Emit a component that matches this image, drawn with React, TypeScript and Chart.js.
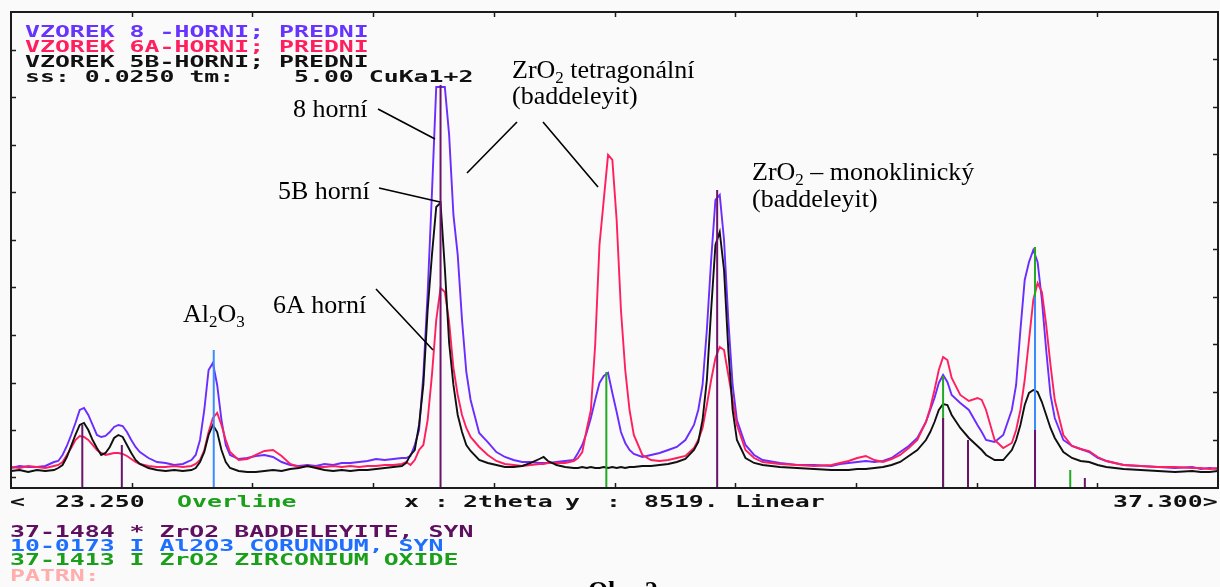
import React, { useEffect, useRef } from 'react';
import { Chart, registerables } from 'chart.js';

Chart.register(...registerables);

// ---- axis ranges (from the status line of the instrument) ----
const X_MIN = 23.25;
const X_MAX = 37.3;
const Y_MAX = 8519;

// ---- 2theta sampling positions (degrees) ----
const TWO_THETA = [
  23.25, 23.35, 23.45, 23.55, 23.65, 23.75, 23.8, 23.85, 23.9, 23.95,
  24.0, 24.05, 24.1, 24.15, 24.2, 24.25, 24.3, 24.35, 24.4, 24.45,
  24.5, 24.55, 24.6, 24.65, 24.7, 24.75, 24.85, 24.95, 25.05, 25.15,
  25.25, 25.35, 25.4, 25.45, 25.5, 25.55, 25.6, 25.65, 25.7, 25.75,
  25.8, 25.9, 26.0, 26.1, 26.2, 26.3, 26.4, 26.5, 26.6, 26.7,
  26.8, 26.9, 27.0, 27.1, 27.2, 27.3, 27.4, 27.5, 27.6, 27.7,
  27.8, 27.85, 27.9, 27.95, 28.0, 28.05, 28.1, 28.15, 28.2, 28.25,
  28.3, 28.35, 28.4, 28.45, 28.5, 28.55, 28.6, 28.7, 28.8, 28.9,
  29.0, 29.1, 29.2, 29.3, 29.4, 29.45, 29.5, 29.6, 29.7, 29.8,
  29.85, 29.9, 29.95, 30.0, 30.05, 30.1, 30.15, 30.2, 30.25, 30.3,
  30.35, 30.4, 30.45, 30.5, 30.6, 30.7, 30.8, 30.9, 31.0, 31.1,
  31.2, 31.25, 31.3, 31.35, 31.4, 31.45, 31.5, 31.55, 31.6, 31.65,
  31.7, 31.8, 31.9, 32.0, 32.2, 32.4, 32.6, 32.8, 32.9, 33.0,
  33.1, 33.2, 33.3, 33.4, 33.5, 33.6, 33.7, 33.8, 33.9, 33.95,
  34.0, 34.05, 34.1, 34.15, 34.2, 34.3, 34.4, 34.5, 34.55, 34.6,
  34.7, 34.8, 34.9, 34.95, 35.0, 35.05, 35.1, 35.15, 35.2, 35.25,
  35.3, 35.35, 35.4, 35.5, 35.6, 35.7, 35.8, 35.9, 36.0, 36.2,
  36.4, 36.6, 36.8, 37.0, 37.1, 37.2, 37.3,
];

// ---- measured intensities (counts) ----
const SAMPLE_8 = [
  358, 394, 376, 376, 394, 465, 483, 591, 752, 949,
  1164, 1396, 1432, 1307, 1128, 949, 913, 931, 1002, 1092,
  1128, 1110, 1002, 859, 734, 644, 537, 465, 448, 412,
  430, 501, 591, 859, 1396, 2112, 2238, 1844, 1217, 770,
  591, 519, 537, 573, 591, 555, 465, 412, 394, 412,
  394, 430, 412, 448, 448, 465, 483, 519, 501, 519,
  537, 537, 573, 770, 1038, 2023, 3490, 5280, 7178, 7178,
  7178, 6319, 4887, 4171, 3007, 2076, 1575, 985, 823, 644,
  555, 501, 465, 465, 448, 448, 448, 465, 483, 501,
  627, 770, 985, 1253, 1575, 1880, 2005, 2059, 1701, 1360,
  1002, 806, 680, 609, 555, 591, 627, 680, 734, 859,
  1128, 1396, 1844, 2828, 4081, 5155, 5245, 4439, 3007, 1844,
  1217, 770, 591, 501, 448, 412, 412, 394, 430, 448,
  465, 483, 465, 483, 537, 644, 752, 895, 1181, 1396,
  1611, 1880, 2023, 1897, 1665, 1522, 1396, 1128, 1002, 859,
  823, 949, 1396, 1844, 2828, 3723, 4045, 4260, 4045, 3365,
  2470, 1665, 1253, 859, 752, 698, 644, 537, 483, 412,
  394, 376, 358, 376, 340, 358, 340,
];

const SAMPLE_6A = [
  376, 358, 394, 376, 358, 394, 412, 465, 591, 716,
  859, 931, 913, 859, 770, 680, 627, 591, 609, 627,
  627, 609, 573, 519, 465, 430, 394, 376, 376, 394,
  376, 394, 430, 501, 680, 1002, 1253, 1343, 1128, 859,
  644, 501, 519, 591, 662, 680, 573, 430, 376, 394,
  376, 376, 394, 376, 394, 376, 394, 394, 412, 412,
  430, 465, 412, 501, 680, 770, 1217, 2023, 3007, 3580,
  3508, 2971, 2148, 1665, 1307, 1074, 913, 734, 591, 483,
  430, 412, 394, 412, 430, 430, 448, 448, 448, 483,
  537, 644, 1038, 1396, 2560, 4350, 5155, 5961, 5871, 4797,
  3186, 2112, 1396, 949, 591, 501, 483, 501, 537, 573,
  716, 859, 1074, 1486, 1933, 2327, 2524, 2470, 2023, 1575,
  1128, 680, 537, 465, 430, 412, 394, 412, 448, 483,
  537, 573, 501, 465, 519, 591, 716, 859, 1181, 1432,
  1754, 2112, 2345, 2291, 1969, 1665, 1557, 1611, 1575, 1396,
  859, 716, 806, 1038, 1396, 1933, 2649, 3365, 3670, 3508,
  2918, 2202, 1575, 949, 752, 698, 662, 555, 483, 412,
  394, 376, 376, 358, 358, 340, 358,
];

const SAMPLE_5B = [
  304, 322, 286, 322, 304, 322, 358, 412, 555, 752,
  949, 1128, 1164, 1038, 859, 716, 591, 627, 734, 895,
  949, 913, 770, 627, 501, 430, 358, 322, 304, 322,
  304, 322, 358, 465, 644, 949, 1128, 1002, 680, 465,
  358, 304, 286, 286, 304, 322, 304, 340, 358, 394,
  358, 322, 304, 322, 304, 322, 322, 340, 358, 376,
  394, 448, 591, 680, 1128, 1844, 3186, 4171, 5030, 5102,
  3938, 2596, 1844, 1307, 1002, 770, 662, 501, 448, 412,
  376, 376, 394, 448, 519, 555, 483, 412, 376, 358,
  358, 376, 358, 376, 358, 358, 376, 358, 376, 358,
  376, 358, 376, 376, 394, 394, 412, 430, 465, 519,
  680, 823, 1217, 1933, 3186, 4350, 4582, 3902, 2470, 1396,
  859, 537, 448, 412, 376, 358, 340, 322, 322, 322,
  340, 340, 358, 376, 412, 465, 573, 680, 859, 1002,
  1181, 1396, 1504, 1486, 1307, 1074, 895, 752, 680, 591,
  501, 501, 680, 859, 1128, 1486, 1701, 1754, 1718, 1539,
  1307, 1074, 895, 644, 537, 483, 465, 412, 376, 340,
  322, 304, 286, 304, 286, 286, 304,
];

// ---- reference patterns (stick positions, degrees, and intensities) ----
const BADDELEYITE_POS = [24.08, 24.54, 28.25, 31.47, 34.1, 34.39, 35.17, 35.75];
const BADDELEYITE_INT = [1128, 770, 7214, 5334, 1253, 859, 1038, 179];
const CORUNDUM_POS = [25.61, 35.17];
const CORUNDUM_INT = [2470, 3419];
const ZIRCONIUM_POS = [30.18, 34.1, 35.17, 35.58];
const ZIRCONIUM_INT = [2076, 2005, 4314, 322];

// ---- frame tick marks ----
const X_TICKS = [24.655, 26.06, 27.465, 28.87, 30.275, 31.68, 33.085, 34.49, 35.895];
const Y_TICKS_LEFT = [197, 1038, 1880, 2739, 3598, 4439, 5298, 6140, 6999, 7840];
const Y_TICKS_RIGHT = [859, 1718, 2578, 3419, 4278, 5119, 5979, 6820, 7679];

// ---- texts ----
const HEADER_LINES = [
  { text: 'VZOREK 8 -HORNI; PREDNI', color: '#6633ff' },
  { text: 'VZOREK 6A-HORNI; PREDNI', color: '#ff1f5f' },
  { text: 'VZOREK 5B-HORNI; PREDNI', color: '#111111' },
  { text: 'ss: 0.0250 tm:    5.00 CuKa1+2', color: '#111111' },
];
const FOOTER_LINES = [
  { text: '37-1484 * ZrO2 BADDELEYITE, SYN', color: '#5e0f5e' },
  { text: '10-0173 I Al2O3 CORUNDUM, SYN', color: '#1f6fff' },
  { text: '37-1413 I ZrO2 ZIRCONIUM OXIDE', color: '#1a9f1a' },
  { text: 'PATRN:', color: '#ffadad' },
];

const COL_8 = '#6a2cff';
const COL_6A = '#ff1f5f';
const COL_5B = '#101010';
const COL_BAD = '#6a146a';
const COL_COR = '#3a8cff';
const COL_ZIR = '#22aa22';

function sticks(pos: number[], ints: number[]) {
  const out: any[] = [];
  pos.forEach((p, i) => {
    out.push({ x: p, y: 0 }, { x: p, y: ints[i] }, { x: p, y: null });
  });
  return out;
}

type Part = [string, boolean];
function drawRich(ctx: CanvasRenderingContext2D, parts: Part[], x: number, y: number) {
  let cx = x;
  for (const [t, sub] of parts) {
    ctx.font = sub ? '17px "Liberation Serif"' : '26px "Liberation Serif"';
    ctx.fillText(t, cx, sub ? y + 5 : y);
    cx += ctx.measureText(t).width;
  }
}

const framePlugin = {
  id: 'frame',
  afterDatasetsDraw(chart: any) {
    const ctx: CanvasRenderingContext2D = chart.ctx;
    ctx.save();
    ctx.fillStyle = '#000';
    ctx.textBaseline = 'alphabetic';
    drawRich(ctx, [['8 horní', false]], 293, 117);
    drawRich(ctx, [['5B horní', false]], 278, 199);
    drawRich(ctx, [['6A horní', false]], 273, 313);
    drawRich(ctx, [['Al', false], ['2', true], ['O', false], ['3', true]], 183, 322);
    drawRich(ctx, [['ZrO', false], ['2', true], [' tetragonální', false]], 512, 78);
    drawRich(ctx, [['(baddeleyit)', false]], 512, 104);
    drawRich(ctx, [['ZrO', false], ['2', true], [' – monoklinický', false]], 752, 180);
    drawRich(ctx, [['(baddeleyit)', false]], 752, 207);
    ctx.strokeStyle = '#000';
    ctx.lineWidth = 1.6;
    const lines = [
      [378, 109, 435, 139],
      [379, 188, 440, 202],
      [376, 289, 433, 350],
      [517, 122, 467, 173],
      [543, 122, 598, 187],
    ];
    ctx.beginPath();
    lines.forEach(([a, b, c, d]) => {
      ctx.moveTo(a, b);
      ctx.lineTo(c, d);
    });
    ctx.stroke();
    ctx.restore();
  },
  afterDraw(chart: any) {
    const { ctx, chartArea: a, scales } = chart;
    ctx.save();
    ctx.strokeStyle = '#1c1c1c';
    ctx.lineWidth = 2;
    ctx.strokeRect(a.left, a.top, a.right - a.left, a.bottom - a.top);
    ctx.lineWidth = 1.5;
    ctx.beginPath();
    X_TICKS.forEach((v) => {
      const x = Math.round(scales.x.getPixelForValue(v)) + 0.5;
      ctx.moveTo(x, a.top);
      ctx.lineTo(x, a.top + 5);
      ctx.moveTo(x, a.bottom);
      ctx.lineTo(x, a.bottom - 5);
    });
    Y_TICKS_LEFT.forEach((v) => {
      const y = Math.round(scales.y.getPixelForValue(v)) + 0.5;
      ctx.moveTo(a.left, y);
      ctx.lineTo(a.left + 5, y);
    });
    Y_TICKS_RIGHT.forEach((v) => {
      const y = Math.round(scales.y.getPixelForValue(v)) + 0.5;
      ctx.moveTo(a.right, y);
      ctx.lineTo(a.right - 5, y);
    });
    ctx.stroke();
    ctx.restore();
  },
};

const monoStyle = (x: number, y: number, color: string): React.CSSProperties => ({
  position: 'absolute',
  left: x,
  top: y,
  color,
  font: 'bold 15px "DejaVu Sans Mono"',
  lineHeight: '15px',
  whiteSpace: 'pre',
  transform: 'scaleX(1.655)',
  transformOrigin: '0 0',
});

export default function App() {
  const ref = useRef<HTMLCanvasElement>(null);

  useEffect(() => {
    if (!ref.current) return;
    const curve = (vals: number[]) => TWO_THETA.map((x, i) => ({ x, y: vals[i] }));
    const chart = new Chart(ref.current, {
      type: 'line',
      data: {
        datasets: [
          { label: 'VZOREK 8', data: curve(SAMPLE_8), borderColor: COL_8, borderWidth: 1.9, order: 6 },
          { label: 'VZOREK 6A', data: curve(SAMPLE_6A), borderColor: COL_6A, borderWidth: 1.9, order: 5 },
          { label: 'VZOREK 5B', data: curve(SAMPLE_5B), borderColor: COL_5B, borderWidth: 1.9, order: 4 },
          { label: '37-1413', data: sticks(ZIRCONIUM_POS, ZIRCONIUM_INT), borderColor: COL_ZIR, borderWidth: 2, order: 3, spanGaps: false },
          { label: '10-0173', data: sticks(CORUNDUM_POS, CORUNDUM_INT), borderColor: COL_COR, borderWidth: 2, order: 2, spanGaps: false },
          { label: '37-1484', data: sticks(BADDELEYITE_POS, BADDELEYITE_INT), borderColor: COL_BAD, borderWidth: 2, order: 1, spanGaps: false },
        ] as any,
      },
      options: {
        animation: false,
        responsive: false,
        layout: { padding: { left: 11, top: 12, right: 2, bottom: 99 } },
        plugins: { legend: { display: false }, tooltip: { enabled: false }, title: { display: false } },
        scales: {
          x: { type: 'linear', min: X_MIN, max: X_MAX, display: false },
          y: { type: 'linear', min: 0, max: Y_MAX, display: false },
        },
        elements: { point: { radius: 0 }, line: { tension: 0, fill: false } },
      },
      plugins: [framePlugin],
    });
    return () => chart.destroy();
  }, []);

  return (
    <div
      style={{
        position: 'fixed',
        left: 0,
        top: 0,
        width: 1220,
        height: 587,
        background: '#fafafa',
        overflow: 'hidden',
      }}
    >
      <canvas ref={ref} width={1220} height={587} style={{ position: 'absolute', left: 0, top: 0, width: 1220, height: 587 }} />
      {HEADER_LINES.map((l, i) => (
        <div key={'h' + i} style={monoStyle(25, 25 + i * 15, l.color)}>
          {l.text}
        </div>
      ))}
      <div style={monoStyle(10, 495, '#111')}>{'<'}</div>
      <div style={monoStyle(55, 495, '#111')}>{X_MIN.toFixed(3)}</div>
      <div style={monoStyle(177, 495, '#1a9f1a')}>Overline</div>
      <div style={monoStyle(404, 495, '#111')}>x</div>
      <div style={monoStyle(434, 495, '#111')}>:</div>
      <div style={monoStyle(463, 495, '#111')}>2theta</div>
      <div style={monoStyle(565, 495, '#111')}>y</div>
      <div style={monoStyle(606, 495, '#111')}>:</div>
      <div style={monoStyle(644, 495, '#111')}>{`${Y_MAX}.`}</div>
      <div style={monoStyle(735, 495, '#111')}>Linear</div>
      <div style={monoStyle(1113, 495, '#111')}>{`${X_MAX.toFixed(3)}>`}</div>
      {FOOTER_LINES.map((l, i) => (
        <div key={'f' + i} style={monoStyle(10, [525, 539, 553, 569][i], l.color)}>
          {l.text}
        </div>
      ))}
      <div
        style={{
          position: 'absolute',
          left: 588,
          top: 578,
          font: 'bold 26px "Liberation Serif"',
          lineHeight: '26px',
          whiteSpace: 'pre',
          color: '#000',
        }}
      >
        Obr. 2
      </div>
    </div>
  );
}
